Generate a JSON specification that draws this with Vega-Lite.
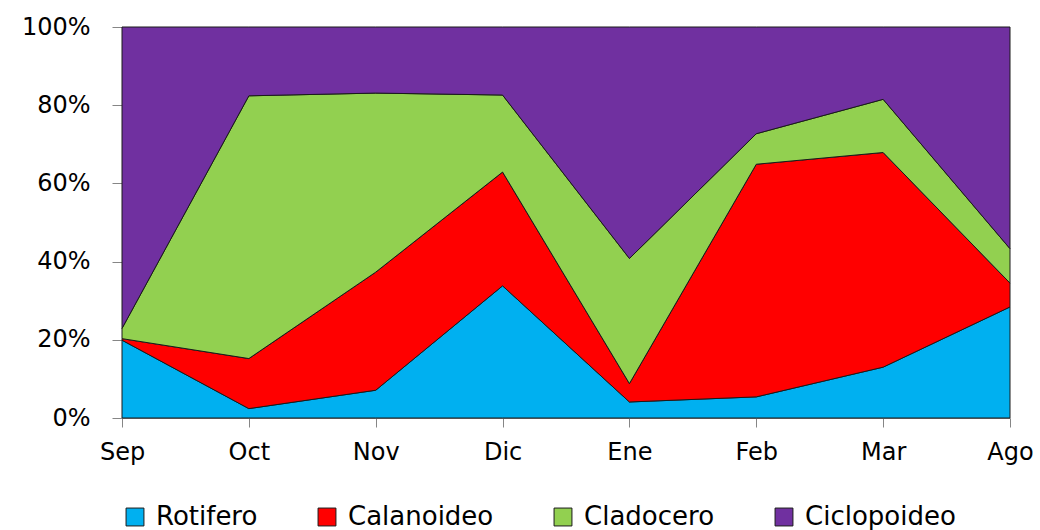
{
  "$schema": "https://vega.github.io/schema/vega-lite/v6.json",
  "autosize": {"type": "none"},
  "width": 888,
  "height": 391,
  "padding": {"left": 122, "top": 27, "right": 30, "bottom": 112},
  "background": "white",
  "config": {"view": {"stroke": null}, "font": "DejaVu Sans"},
  "data": {"values": [
    {"mes": "Sep", "grupo": "Rotifero", "k": 1, "v": 19.9},
    {"mes": "Sep", "grupo": "Calanoideo", "k": 2, "v": 0.4},
    {"mes": "Sep", "grupo": "Cladocero", "k": 3, "v": 2.6},
    {"mes": "Sep", "grupo": "Ciclopoideo", "k": 4, "v": 77.1},
    {"mes": "Oct", "grupo": "Rotifero", "k": 1, "v": 2.4},
    {"mes": "Oct", "grupo": "Calanoideo", "k": 2, "v": 12.8},
    {"mes": "Oct", "grupo": "Cladocero", "k": 3, "v": 67.2},
    {"mes": "Oct", "grupo": "Ciclopoideo", "k": 4, "v": 17.6},
    {"mes": "Nov", "grupo": "Rotifero", "k": 1, "v": 7.1},
    {"mes": "Nov", "grupo": "Calanoideo", "k": 2, "v": 30.2},
    {"mes": "Nov", "grupo": "Cladocero", "k": 3, "v": 45.8},
    {"mes": "Nov", "grupo": "Ciclopoideo", "k": 4, "v": 16.9},
    {"mes": "Dic", "grupo": "Rotifero", "k": 1, "v": 33.8},
    {"mes": "Dic", "grupo": "Calanoideo", "k": 2, "v": 29.1},
    {"mes": "Dic", "grupo": "Cladocero", "k": 3, "v": 19.7},
    {"mes": "Dic", "grupo": "Ciclopoideo", "k": 4, "v": 17.4},
    {"mes": "Ene", "grupo": "Rotifero", "k": 1, "v": 4.1},
    {"mes": "Ene", "grupo": "Calanoideo", "k": 2, "v": 4.7},
    {"mes": "Ene", "grupo": "Cladocero", "k": 3, "v": 32.0},
    {"mes": "Ene", "grupo": "Ciclopoideo", "k": 4, "v": 59.2},
    {"mes": "Feb", "grupo": "Rotifero", "k": 1, "v": 5.4},
    {"mes": "Feb", "grupo": "Calanoideo", "k": 2, "v": 59.5},
    {"mes": "Feb", "grupo": "Cladocero", "k": 3, "v": 7.8},
    {"mes": "Feb", "grupo": "Ciclopoideo", "k": 4, "v": 27.3},
    {"mes": "Mar", "grupo": "Rotifero", "k": 1, "v": 13.0},
    {"mes": "Mar", "grupo": "Calanoideo", "k": 2, "v": 54.9},
    {"mes": "Mar", "grupo": "Cladocero", "k": 3, "v": 13.6},
    {"mes": "Mar", "grupo": "Ciclopoideo", "k": 4, "v": 18.5},
    {"mes": "Ago", "grupo": "Rotifero", "k": 1, "v": 28.4},
    {"mes": "Ago", "grupo": "Calanoideo", "k": 2, "v": 6.1},
    {"mes": "Ago", "grupo": "Cladocero", "k": 3, "v": 8.8},
    {"mes": "Ago", "grupo": "Ciclopoideo", "k": 4, "v": 56.7}
  ]},
  "mark": {"type": "area", "stroke": "#1a1a1a", "strokeWidth": 1, "strokeJoin": "miter"},
  "encoding": {
    "x": {
      "field": "mes", "type": "ordinal",
      "sort": ["Sep", "Oct", "Nov", "Dic", "Ene", "Feb", "Mar", "Ago"],
      "scale": {"type": "point", "padding": 0},
      "axis": {
        "title": null, "labelAngle": 0, "labelFontSize": 24, "labelColor": "#000",
        "domainColor": "#868686", "tickColor": "#868686", "tickSize": 9,
        "labelPadding": 13, "grid": false
      }
    },
    "y": {
      "field": "v", "type": "quantitative", "stack": "normalize",
      "scale": {"domain": [0, 1]},
      "axis": {
        "title": null, "format": ".0%", "values": [0, 0.2, 0.4, 0.6, 0.8, 1],
        "labelFontSize": 24, "labelColor": "#000",
        "domainColor": "#868686", "tickColor": "#868686", "tickSize": 10,
        "labelPadding": 22, "grid": false
      }
    },
    "color": {
      "field": "grupo", "type": "nominal",
      "scale": {
        "domain": ["Rotifero", "Calanoideo", "Cladocero", "Ciclopoideo"],
        "range": ["#00B0F0", "#FF0000", "#92D050", "#7030A0"]
      },
      "legend": {
        "orient": "bottom", "direction": "horizontal", "title": null,
        "symbolType": "square", "symbolSize": 320, "symbolStrokeWidth": 1,
        "labelFontSize": 26, "labelColor": "#000", "columnPadding": 56,
        "offset": 40, "symbolOpacity": 1, "labelOffset": 8
      }
    },
    "order": {"field": "k", "type": "quantitative"}
  }
}
